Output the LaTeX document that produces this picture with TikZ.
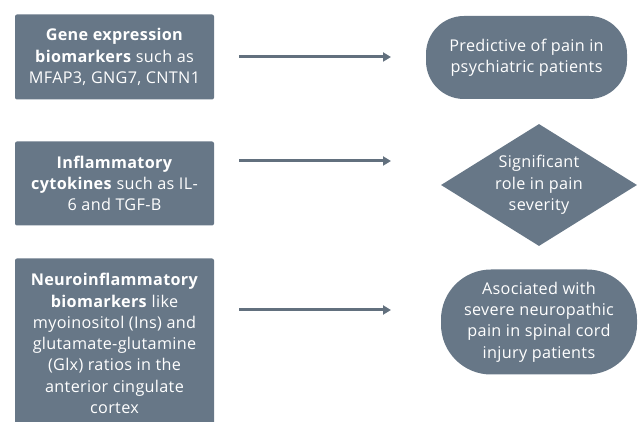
\documentclass[tikz,border=0pt]{standalone}
\usepackage{fontspec}
\setmainfont[LetterSpace=2.0]{Open Sans}
\usetikzlibrary{arrows.meta,shapes.geometric}
\definecolor{slate}{RGB}{103, 119, 135}
\definecolor{slate1}{RGB}{98, 112, 126}

\begin{document}
\begin{tikzpicture}[x=1pt,y=-1pt,
cardnode/.style={rectangle, rounded corners=2pt, fill=slate, text=white, minimum width=199pt, align=center, inner sep=0pt, font=\fontsize{16.2}{21.3}\selectfont},
pillnode/.style={rectangle, fill=slate, text=white, align=center, inner sep=0pt, font=\fontsize{16.2}{21.3}\selectfont},
kitenode/.style={diamond, aspect=1.6, fill=slate, text=white, align=center, inner sep=0pt, minimum width=196pt, minimum height=122pt, font=\fontsize{16.2}{21.3}\selectfont},
]
\useasboundingbox (0,0) rectangle (638,422);
\clip (0,0) rectangle (638,422);
%Nodes
\node[cardnode, minimum height=85pt]   (gene)  at (114.5,57) {\textbf{Gene expression}\\\textbf{biomarkers} such as\\MFAP3, GNG7, CNTN1};
\node[cardnode, minimum height=84pt]   (infl)  at (114.5,183.5) {\textbf{Inflammatory}\\\textbf{cytokines} such as IL-\\6 and TGF-B};
\node[cardnode, minimum height=170pt]  (neuro) at (114.5,343.5) {\textbf{Neuroinflammatory}\\\textbf{biomarkers} like\\myoinositol (Ins) and\\glutamate-glutamine\\(Glx) ratios in the\\anterior cingulate\\cortex};

\node[pillnode, minimum width=201pt, minimum height=83pt, rounded corners=38pt]   (pred)  at (526.5,57.5) {Predictive of pain in\\psychiatric patients};
\node[kitenode]   (role)  at (539,185) {Significant\\role in pain\\severity};
\node[pillnode, minimum width=196pt, minimum height=105pt, rounded corners=50pt]  (assoc) at (539,322) {Asociated with\\severe neuropathic\\pain in spinal cord\\injury patients};

\coordinate (g1) at (239,57);
\coordinate (p1) at (391,57);
\coordinate (g2) at (239,161);
\coordinate (p2) at (391,161);
\coordinate (g3) at (239,310);
\coordinate (p3) at (391,310);

\draw[-{Triangle[length=8pt,width=9pt]}, line width=3pt, slate1] (g1) -- (p1);
\draw[-{Triangle[length=8pt,width=9pt]}, line width=3pt, slate1] (g2) -- (p2);
\draw[-{Triangle[length=8pt,width=9pt]}, line width=3pt, slate1] (g3) -- (p3);

\end{tikzpicture}
\end{document}
